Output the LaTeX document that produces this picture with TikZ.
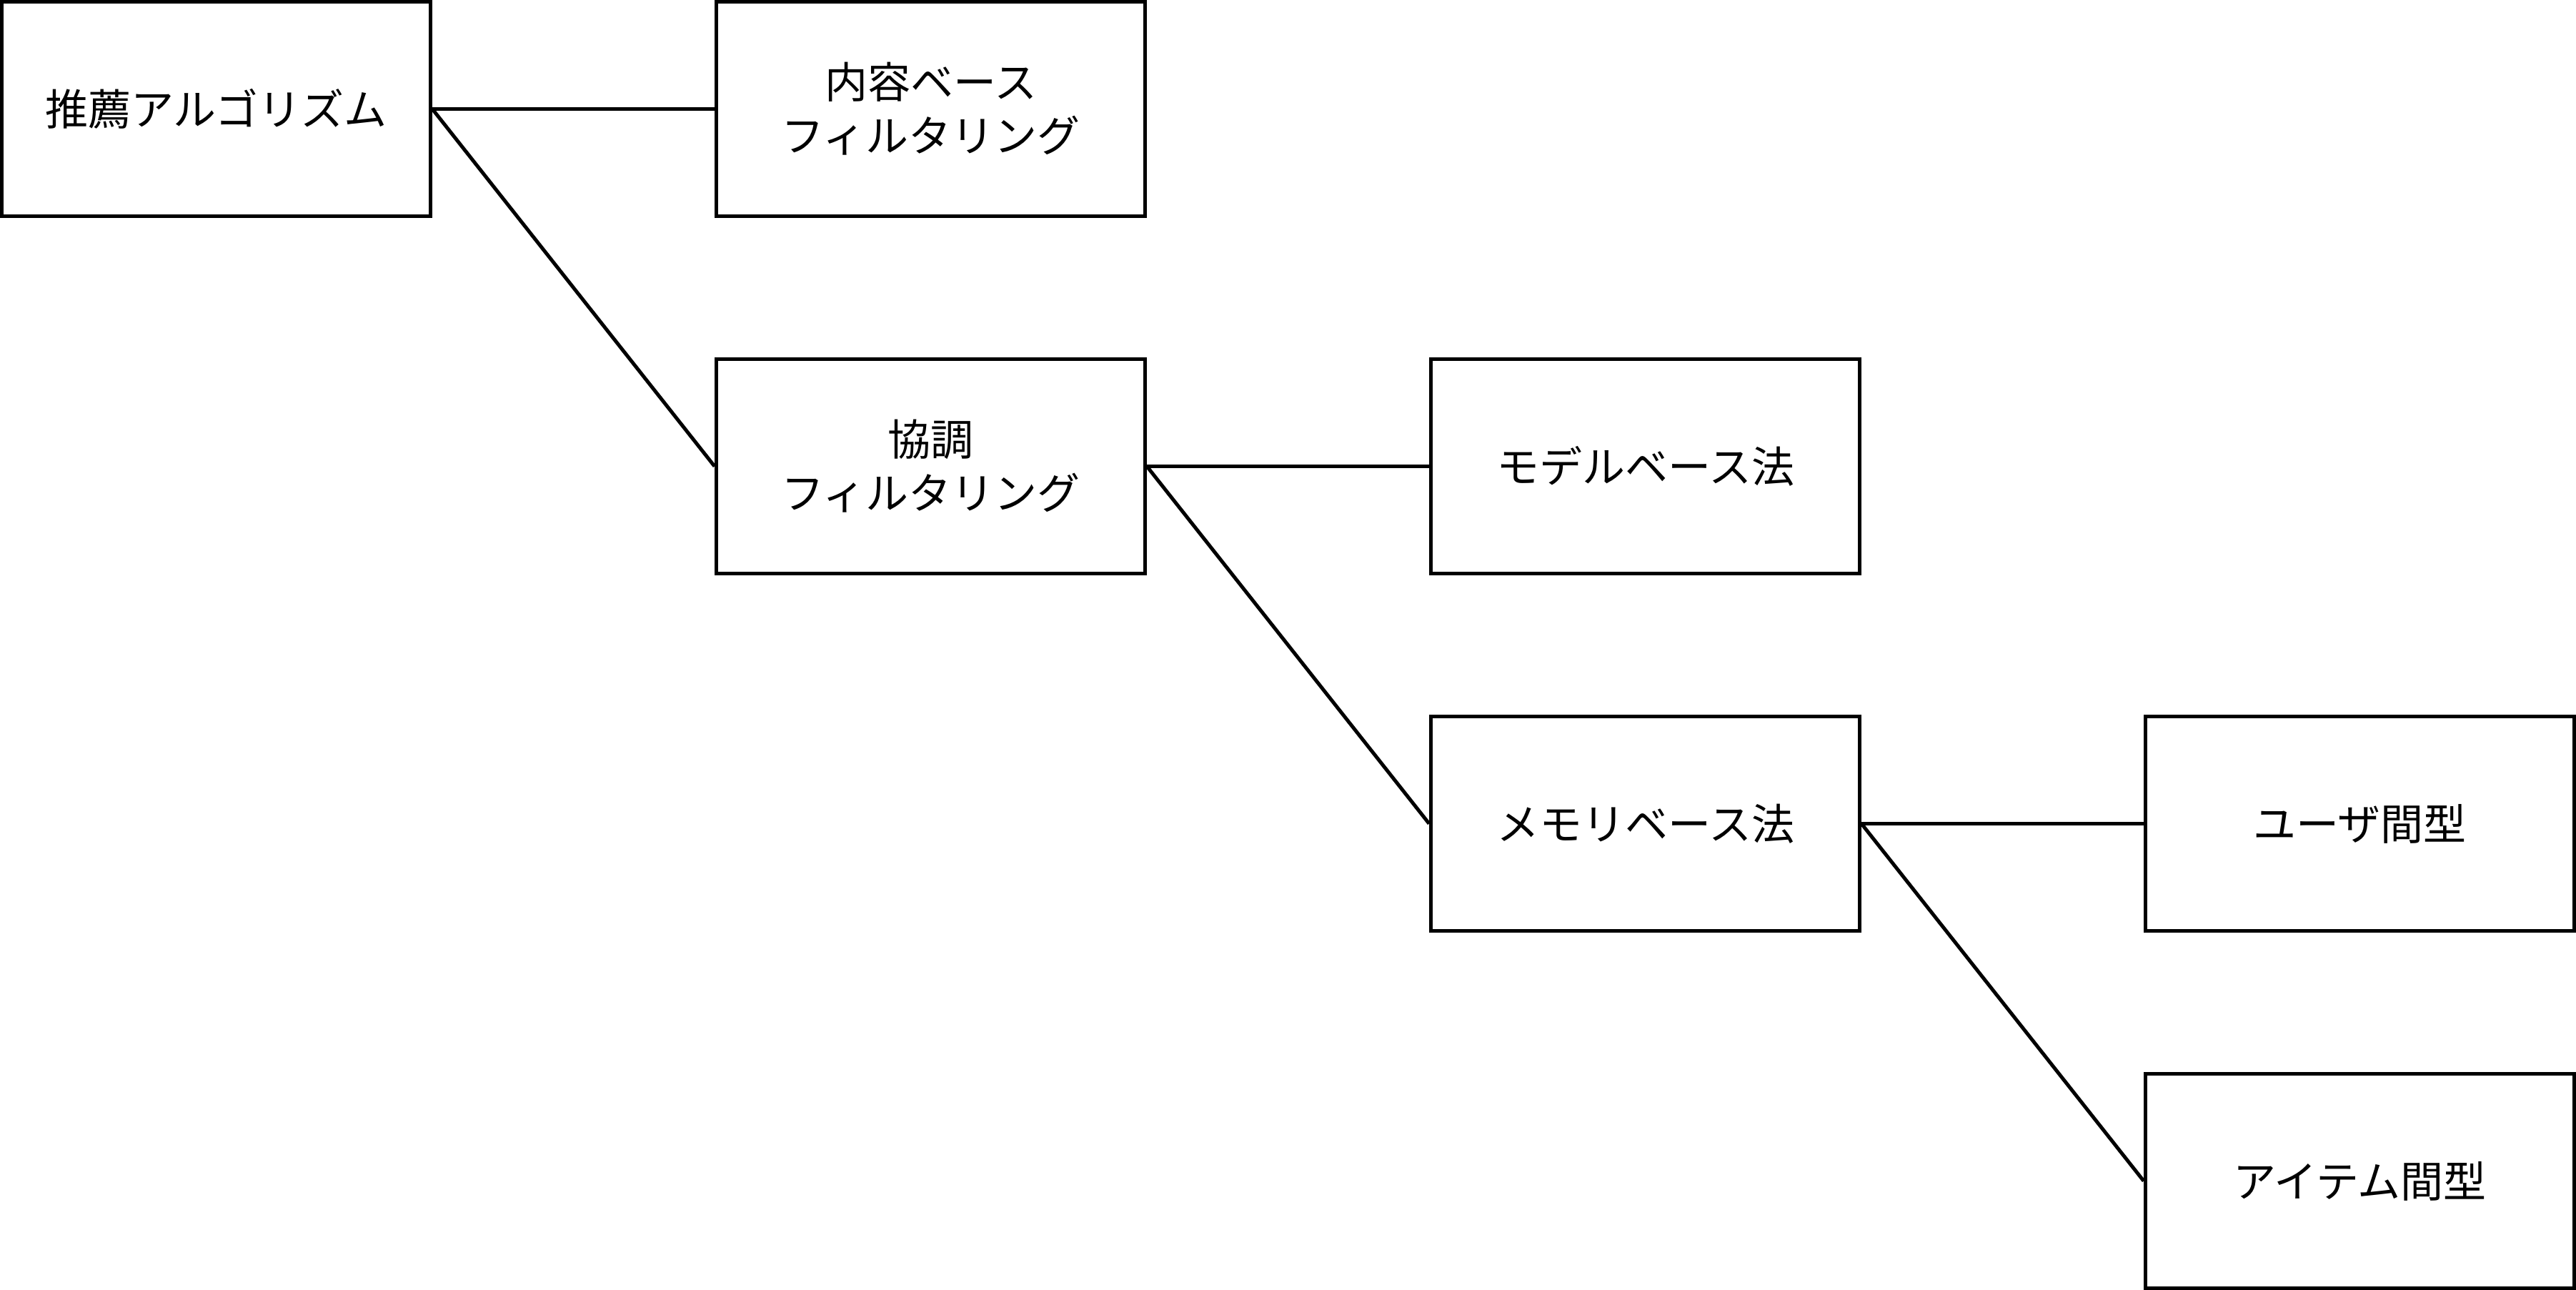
\documentclass[tikz,border=0pt]{standalone}
\usepackage{fontspec}
\setmainfont{Noto Sans CJK JP}
\begin{document}
\begin{tikzpicture}[x=1pt,y=1pt,
  box/.style={draw=black,line width=1pt,minimum width=120pt,minimum height=60pt,inner sep=0pt,align=center,font=\fontsize{12}{15}\selectfont},
  link/.style={draw=black,line width=1pt}]
\useasboundingbox (0,0) rectangle (721,-361);
\node[box] (root) at (60.5,-30.5) {推薦アルゴリズム};
\node[box] (cb) at (260.5,-30.5) {内容ベース\\フィルタリング};
\node[box] (cf) at (260.5,-130.5) {協調\\フィルタリング};
\node[box] (mb) at (460.5,-130.5) {モデルベース法};
\node[box] (mem) at (460.5,-230.5) {メモリベース法};
\node[box] (user) at (660.5,-230.5) {ユーザ間型};
\node[box] (item) at (660.5,-330.5) {アイテム間型};
\draw[link] (root.east) -- (cb.west);
\draw[link] (root.east) -- (cf.west);
\draw[link] (cf.east) -- (mb.west);
\draw[link] (cf.east) -- (mem.west);
\draw[link] (mem.east) -- (user.west);
\draw[link] (mem.east) -- (item.west);
\end{tikzpicture}
\end{document}
